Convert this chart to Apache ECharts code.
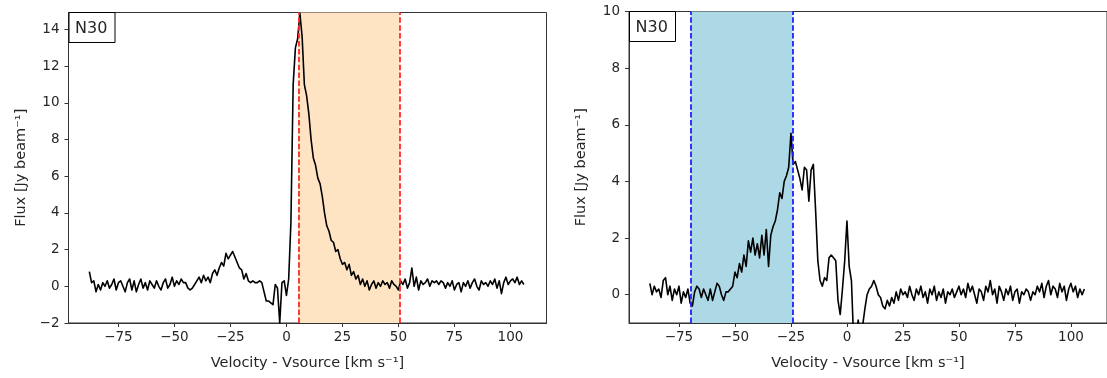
<!DOCTYPE html>
<html>
<head>
<meta charset="utf-8">
<script src="https://cdn.jsdelivr.net/npm/echarts@6/dist/echarts.min.js"></script>
<style>
html,body{margin:0;padding:0;background:#fff;}
#chart{width:1107px;height:378px;}
</style>
</head>
<body>
<div id="chart"></div>
<script>
// Velocity channels (km/s): start and channel width
const velStart = -88;
const velStep = 1;

// Left panel flux (Jy/beam), channels -88 .. 106
const fluxLeft = [
  0.8, 0.2, 0.3, -0.3, 0.1, -0.2, 0.2, 0.0, 0.3, -0.1,
  0.1, 0.4, -0.2, 0.2, 0.3, 0.0, -0.3, 0.2, 0.4, -0.2,
  0.3, -0.3, 0.1, 0.4, -0.1, 0.2, -0.2, 0.3, 0.1, -0.1,
  0.3, 0.0, -0.2, 0.2, 0.4, -0.1, 0.1, 0.5, 0.0, 0.3,
  0.1, 0.4, 0.2, 0.2, -0.1, -0.2, -0.1, 0.1, 0.3, 0.5,
  0.2, 0.6, 0.3, 0.5, 0.2, 0.7, 0.9, 0.6, 1.0, 1.3,
  1.1, 1.8, 1.5, 1.7, 1.9, 1.6, 1.3, 1.0, 0.9, 0.4,
  0.7, 0.3, 0.2, 0.3, 0.2, 0.2, 0.3, 0.2, -0.3, -0.8,
  -0.8, -0.9, -1.0, 0.1, -0.1, -2.0, 0.2, 0.3, -0.5, 0.4,
  3.5, 11.0, 13.0, 13.5, 14.9, 13.6, 11.0, 10.4, 9.4, 8.0,
  7.0, 6.6, 5.9, 5.6, 4.9, 4.0, 3.3, 3.0, 2.5, 2.4,
  1.9, 2.0, 1.5, 1.2, 1.3, 0.9, 1.2, 0.6, 0.8, 0.4,
  0.6, 0.1, 0.4, 0.0, 0.3, -0.2, 0.1, 0.3, -0.1, 0.2,
  0.0, 0.3, 0.1, 0.2, -0.1, 0.3, 0.1, 0.0, -0.2, 0.3,
  0.1, 0.4, -0.1, 0.2, 1.0, 0.0, 0.5, -0.2, 0.3, 0.1,
  0.2, 0.4, 0.0, 0.3, 0.2, 0.3, 0.1, 0.3, 0.2, -0.1,
  0.2, 0.0, 0.3, -0.2, 0.1, 0.2, -0.3, 0.2, 0.0, 0.3,
  -0.1, 0.2, 0.4, 0.0, -0.2, 0.3, 0.1, 0.2, 0.0, 0.3,
  0.1, 0.4, -0.1, 0.3, -0.4, 0.2, 0.5, 0.1, 0.3, 0.4,
  0.2, 0.5, 0.1, 0.3, 0.1
];

// Right panel flux (Jy/beam), channels -88 .. 106
const fluxRight = [
  0.4, 0.0, 0.3, 0.1, 0.2, -0.1, 0.5, 0.6, 0.0, 0.3,
  -0.2, 0.2, 0.0, 0.3, -0.3, 0.1, -0.1, 0.2, -0.3, -0.4,
  0.1, 0.3, 0.2, -0.1, 0.2, 0.0, -0.2, 0.2, -0.2, 0.1,
  0.4, 0.3, 0.0, -0.2, 0.1, 0.1, 0.2, 0.3, 0.8, 0.6,
  1.1, 0.8, 1.4, 1.0, 1.9, 1.5, 2.0, 1.4, 1.8, 1.3,
  2.1, 1.4, 2.3, 1.0, 2.1, 2.4, 2.6, 3.0, 3.6, 3.4,
  4.0, 4.2, 4.5, 5.7, 4.6, 4.7, 4.4, 4.1, 3.7, 4.5,
  4.4, 3.3, 4.4, 4.6, 3.0, 1.2, 0.5, 0.3, 0.6, 0.5,
  1.3, 1.4, 1.3, 1.2, -0.2, -0.7, 0.2, 1.2, 2.6, 1.0,
  0.5, -1.6, -1.9, -0.9, -1.4, -1.1, -0.5, 0.0, 0.2, 0.3,
  0.5, 0.3, 0.0, -0.1, -0.4, -0.5, -0.2, -0.4, -0.1, -0.3,
  0.1, -0.2, 0.2, 0.0, 0.1, -0.1, 0.3, 0.0, -0.2, 0.2,
  0.0, 0.3, -0.1, 0.1, -0.3, 0.2, 0.0, 0.3, -0.2, 0.1,
  -0.1, 0.2, -0.3, 0.1, 0.0, 0.2, -0.1, 0.1, 0.3, 0.0,
  0.2, -0.1, 0.4, 0.1, 0.3, 0.0, -0.3, 0.2, 0.1, -0.2,
  0.3, 0.1, 0.5, 0.0, 0.2, -0.3, 0.3, 0.1, -0.2, 0.2,
  0.0, 0.3, -0.2, 0.1, 0.2, -0.3, 0.1, 0.0, 0.2, 0.1,
  -0.2, 0.1, 0.0, 0.3, 0.1, 0.4, -0.1, 0.3, 0.5, 0.0,
  0.3, 0.2, -0.1, 0.4, 0.1, 0.3, -0.2, 0.2, 0.4, 0.1,
  0.3, -0.1, 0.2, 0.0, 0.2
];

// Velocity ranges marked in each panel
const rangeLeft = [5.3, 50.6];
const rangeRight = [-69.7, -24.3];

// Tick labels
const xTicks = [-75, -50, -25, 0, 25, 50, 75, 100];
const yTicksLeft = [-2, 0, 2, 4, 6, 8, 10, 12, 14];
const yTicksRight = [0, 2, 4, 6, 8, 10];

const panelLabel = 'N30';
const xTitle = 'Velocity - Vsource [km s\u207B\u00B9]';
const yTitle = 'Flux [Jy beam\u207B\u00B9]';

const pairs = (arr) => arr.map((v, i) => [velStart + i * velStep, v]);
const minus = (v) => String(v).replace('-', '\u2212');
const FONT = 'DejaVu Sans';
const TXT = '#262626';
const FS = 13.5;
const FT = 14.5;

function xAxisFor(idx) {
  return {
    type: 'value', gridIndex: idx, min: -97.3, max: 116.1,
    name: xTitle, nameLocation: 'middle', nameGap: 33,
    nameTextStyle: {fontFamily: FONT, fontSize: FT, color: TXT},
    axisLine: {show: true, onZero: false, lineStyle: {color: '#333', width: 1}},
    axisTick: {show: true, customValues: xTicks, length: 4, lineStyle: {color: '#333', width: 1}},
    axisLabel: {customValues: xTicks, formatter: minus, fontFamily: FONT, fontSize: FS, color: TXT, margin: 7},
    splitLine: {show: false}
  };
}
function yAxisFor(idx, min, max, ticks) {
  return {
    type: 'value', gridIndex: idx, min: min, max: max,
    name: yTitle, nameLocation: 'middle', nameGap: 40, nameRotate: 90,
    nameTextStyle: {fontFamily: FONT, fontSize: FT, color: TXT},
    axisLine: {show: true, onZero: false, lineStyle: {color: '#333', width: 1}},
    axisTick: {show: true, customValues: ticks, length: 4, lineStyle: {color: '#333', width: 1}},
    axisLabel: {customValues: ticks, formatter: minus, fontFamily: FONT, fontSize: FS, color: TXT, margin: 9},
    splitLine: {show: false}
  };
}
function bandSeries(idx, range, fill, lineColor) {
  return {
    type: 'line', xAxisIndex: idx, yAxisIndex: idx, data: [], z: 1, silent: true,
    markArea: {silent: true, itemStyle: {color: fill, opacity: 1}, data: [[{xAxis: range[0]}, {xAxis: range[1]}]]},
    markLine: {silent: true, symbol: 'none', label: {show: false},
      lineStyle: {color: lineColor, width: 1.8, type: [5.5, 2.4]},
      data: [{xAxis: range[0]}, {xAxis: range[1]}]}
  };
}
function specSeries(idx, arr) {
  return {
    type: 'line', xAxisIndex: idx, yAxisIndex: idx, data: pairs(arr), z: 3,
    showSymbol: false, symbol: 'none', clip: true, animation: false,
    lineStyle: {color: '#000', width: 1.6, join: 'round'}
  };
}

const chart = echarts.init(document.getElementById('chart'), null, {renderer: 'canvas'});
chart.setOption({
  animation: false,
  backgroundColor: '#fff',
  grid: [
    {left: 68.5, top: 12.5, width: 478, height: 310.5, show: true, borderColor: '#333', borderWidth: 1, backgroundColor: 'transparent'},
    {left: 629, top: 11.5, width: 478, height: 311.5, show: true, borderColor: '#333', borderWidth: 1, backgroundColor: 'transparent'}
  ],
  xAxis: [xAxisFor(0), xAxisFor(1)],
  yAxis: [yAxisFor(0, -2, 14.93, yTicksLeft), yAxisFor(1, -1, 10, yTicksRight)],
  series: [
    bandSeries(0, rangeLeft, '#FFE4C4', '#FF2A2A'),
    specSeries(0, fluxLeft),
    bandSeries(1, rangeRight, '#ADD8E6', '#2020FF'),
    specSeries(1, fluxRight)
  ],
  graphic: [
    {type: 'rect', x: 69, y: 12.5, shape: {width: 46, height: 30}, style: {fill: '#fff', stroke: '#000', lineWidth: 1}, z: 10},
    {type: 'text', x: 75, y: 28.5, style: {text: panelLabel, font: '16px "DejaVu Sans"', fill: TXT, verticalAlign: 'middle'}, z: 11},
    {type: 'rect', x: 629.5, y: 11.5, shape: {width: 46, height: 30}, style: {fill: '#fff', stroke: '#000', lineWidth: 1}, z: 10},
    {type: 'text', x: 635.5, y: 27.5, style: {text: panelLabel, font: '16px "DejaVu Sans"', fill: TXT, verticalAlign: 'middle'}, z: 11}
  ]
});
</script>
</body>
</html>
